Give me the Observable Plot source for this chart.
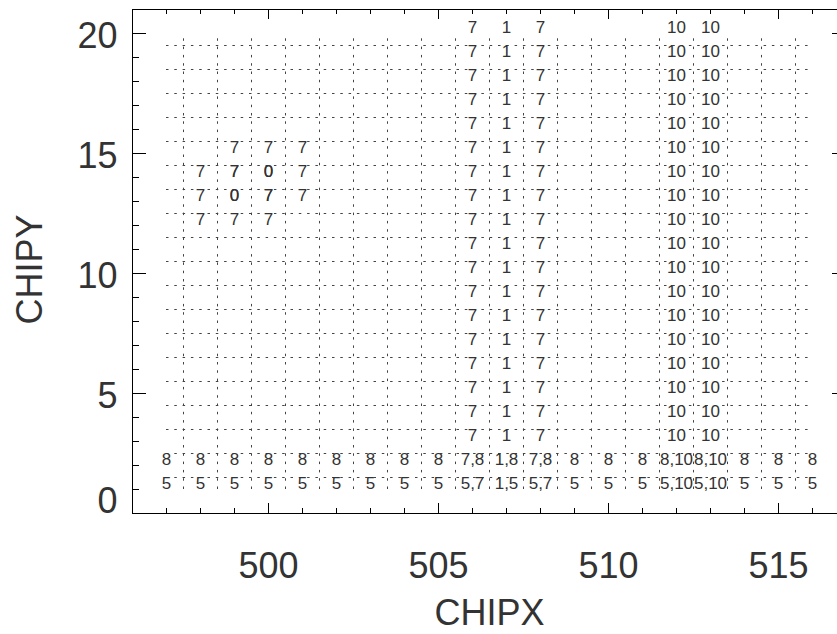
<!DOCTYPE html>
<html><head><meta charset="utf-8">
<script src="https://cdn.jsdelivr.net/npm/d3@7"></script>
<script src="https://cdn.jsdelivr.net/npm/@observablehq/plot@0.6"></script>
<style>html,body{margin:0;padding:0;background:#fff;overflow:hidden} svg{display:block}</style>
</head><body><div id="chart"></div>
<script>
// ---- data ----
const xTickLabels = [500, 505, 510, 515];
const xMinorTicks = [497,498,499,501,502,503,504,506,507,508,509,511,512,513,514,516];
const yTickLabels = [5, 10, 15, 20];
const yZeroLabel = [0];
const yMajorTicks = [5, 10, 15, 20];
const yMinorTicks = [1,2,3,4,6,7,8,9,11,12,13,14,16,17,18,19];

const gridX = [497.5,498.5,499.5,500.5,501.5,502.5,503.5,504.5,505.5,506.5,507.5,508.5,509.5,510.5,511.5,512.5,513.5,514.5,515.5];
const gridY = [1.5,2.5,3.5,4.5,5.5,6.5,7.5,8.5,9.5,10.5,11.5,12.5,13.5,14.5,15.5,16.5,17.5,18.5,19.5];
const gridXRange = [497, 516];
const gridYRange = [1, 20];

// bottom two rows (CHIPY = 2 and 1)
const bottomCols = [497,498,499,500,501,502,503,504,505,506,507,508,509,510,511,512,513,514,515,516];
const row2Labels = ["8","8","8","8","8","8","8","8","8","7,8","1,8","7,8","8","8","8","8,10","8,10","8","8","8"];
const row1Labels = ["5","5","5","5","5","5","5","5","5","5,7","1,5","5,7","5","5","5","5,10","5,10","5","5","5"];

// vertical stripes of labels, CHIPY 3..20
const stripeCols = [506, 507, 508, 512, 513];
const stripeLabels = ["7", "1", "7", "10", "10"];
const stripeRows = [3,4,5,6,7,8,9,10,11,12,13,14,15,16,17,18,19,20];

// small cluster (entries listed twice are drawn twice)
const clusterX = [499,500,501, 498,499,499,500,500,501, 498,499,499,500,500,501, 498,499,500];
const clusterY = [15,15,15, 14,14,14,14,14,14, 13,13,13,13,13,13, 12,12,12];
const clusterT = ["7","7","7", "7","7","7","0","0","7", "7","0","0","7","7","7", "7","7","7"];

// ---- table ----
const cells = [];
bottomCols.forEach((c, i) => {
  cells.push({x: c, y: 2, t: row2Labels[i]});
  cells.push({x: c, y: 1, t: row1Labels[i]});
});
stripeCols.forEach((c, i) => stripeRows.forEach(r => cells.push({x: c, y: r, t: stripeLabels[i]})));
clusterX.forEach((c, i) => cells.push({x: c, y: clusterY[i], t: clusterT[i]}));

const FONT = "Liberation Sans, Helvetica, Arial, sans-serif";
const W = 837, H = 634, ML = 132, MR = -9, MT = 9, MB = 121;
const FW = W - ML - MR, FH = H - MT - MB;

const chart = Plot.plot({
  width: W, height: H,
  marginLeft: ML, marginRight: MR, marginTop: MT, marginBottom: MB,
  x: {domain: [496, 517]},
  y: {domain: [0, 21]},
  style: {fontFamily: FONT, background: "#fff", color: "#333"},
  marks: [
    Plot.ruleY(gridY, {y: d => d, x1: gridXRange[0], x2: gridXRange[1], stroke: "#444", strokeWidth: 1, strokeDasharray: "2.5,5.8"}),
    Plot.ruleX(gridX, {x: d => d, y1: gridYRange[0], y2: gridYRange[1], stroke: "#444", strokeWidth: 1, strokeDasharray: "2.5,5.8"}),
    Plot.text(cells, {x: "x", y: "y", text: "t", fontSize: 17, fill: "#333", lineAnchor: "middle", dy: -6, fontFamily: FONT}),
    // ticks: bottom / top
    Plot.ruleX(xMinorTicks, {x: d => d, insetTop: FH - 5, stroke: "black"}),
    Plot.ruleX(xTickLabels, {x: d => d, insetTop: FH - 10, stroke: "black"}),
    Plot.ruleX(xMinorTicks, {x: d => d, insetBottom: FH - 5, stroke: "black"}),
    Plot.ruleX(xTickLabels, {x: d => d, insetBottom: FH - 10, stroke: "black"}),
    // ticks: left / right
    Plot.ruleY(yMinorTicks, {y: d => d, insetRight: FW - 7, stroke: "black"}),
    Plot.ruleY(yMajorTicks, {y: d => d, insetRight: FW - 14, stroke: "black"}),
    Plot.ruleY(yMinorTicks, {y: d => d, insetLeft: FW - 7, stroke: "black"}),
    Plot.ruleY(yMajorTicks, {y: d => d, insetLeft: FW - 14, stroke: "black"}),
    Plot.frame({stroke: "black", strokeWidth: 1}),
    Plot.axisX(xTickLabels, {anchor: "bottom", tickSize: 0, tickPadding: 39, fontSize: 36, fill: "#333", label: null}),
    Plot.axisY(yTickLabels, {anchor: "left", tickSize: 0, tickPadding: 15, fontSize: 36, fill: "#333", dy: 3, label: null}),
    Plot.text(yZeroLabel, {y: d => d, text: d => String(d), frameAnchor: "left", textAnchor: "end", lineAnchor: "middle", dx: -15, dy: -12, fontSize: 36, fill: "#333", fontFamily: FONT}),
    Plot.text(["CHIPX"], {text: d => d, frameAnchor: "bottom", textAnchor: "middle", lineAnchor: "middle", dy: 100, fontSize: 36, fill: "#333", fontFamily: FONT}),
    Plot.text(["CHIPY"], {text: d => d, frameAnchor: "left", textAnchor: "middle", lineAnchor: "middle", rotate: -90, dx: -102, dy: 8, fontSize: 36, fill: "#333", fontFamily: FONT})
  ]
});
document.getElementById("chart").appendChild(chart);
</script>
</body></html>
